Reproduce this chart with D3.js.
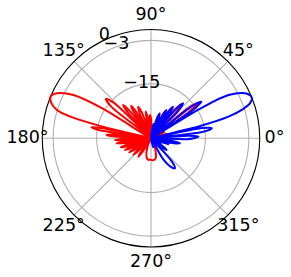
<!DOCTYPE html>
<html>
<head>
<meta charset="utf-8">
<script src="https://cdn.jsdelivr.net/npm/d3@7"></script>
<style>
  html, body { margin: 0; padding: 0; background: #fff; }
  svg { display: block; }
  text { font-family: "DejaVu Sans", sans-serif; fill: #000; }
</style>
</head>
<body>
<svg id="chart" width="291" height="277"></svg>
<script>
// ---- data (angles in degrees, values in dB) ----
const angleTicks = [0, 45, 90, 135, 180, 225, 270, 315];
const radialTicks = [-15, -3, 0];
const radialLabels = ["\u221215", "\u22123", "0"];
const rMin = -30, rMax = 0;

const redTheta = [5, 10, 15, 20, 25, 29,
  33, 35, 37, 39, 41.5, 46, 48.5, 50.5, 52.5, 54.5, 56, 57.8, 59.5, 61, 62.6, 64.2, 66.5,
  69.5, 71.8, 74, 77, 81, 85,
  89.5, 92.5, 95, 97, 99, 101, 103, 106, 109.5, 112, 114.5, 117, 119.5, 121.5, 123.5, 126,
  128, 130, 132, 134, 136.3, 138.8, 141.5, 146.5,
  148.5, 150.9, 154.5, 157.5, 160.5, 163.3, 165, 166.3, 167.3,
  168.5, 169.5, 171, 172.5, 174.3, 175.8, 177.3, 179, 181.3, 182.8, 184.3, 185.6,
  187, 188.4, 190, 192, 194.5, 196.5, 198.5, 200.5, 202.5, 204.3, 206, 208.5,
  211, 213, 215, 218, 221, 223.4, 225.5, 229, 233, 235.5, 238, 242,
  246, 252, 258, 263, 268, 273, 278, 283, 289, 295, 300,
  315, 325, 340, 350];
const redDb = [-26, -30, -25.5, -30, -26, -30,
  -30, -17, -13.8, -16.5, -30, -20, -17.5, -20, -30, -22, -20, -22, -30, -23.5, -21.6, -23.5, -30,
  -25, -23.2, -25, -30, -26.5, -30,
  -25, -23.6, -25, -30, -24.5, -22.5, -24.5, -30, -22.5, -20.6, -22.5, -30, -21.5, -19.5, -21.5, -30,
  -20.5, -18, -20.5, -30, -16, -13.5, -16, -30,
  -14, -5.5, -1.2, 0, -0.8, -2.9, -7, -15, -30,
  -16, -13.3, -15.5, -30, -20, -17.7, -20, -30, -22, -20, -22, -30,
  -22.5, -20.4, -22.5, -30, -23, -21.3, -23, -30, -24, -22.1, -24, -30,
  -25, -22.8, -25, -30, -25.5, -23.3, -25.5, -30, -26, -23.8, -26, -30,
  -28, -26, -24.4, -24, -24.1, -23.9, -24, -24.3, -26, -28, -30,
  -27.5, -30, -27.5, -30];

const blueTheta = [0, 1.9, 3.8, 5.5, 7.2, 9.3, 11.3, 13,
  14, 15.5, 17.5, 19.5, 22, 25.5, 29.1, 31, 32.5,
  34, 36, 38, 40.5, 45, 47.5, 49.5, 51.5, 53.3, 55, 56.8, 58.5,
  60, 61.6, 63.2, 65.5, 68.5, 70.8, 73, 76, 80, 84,
  284, 292, 300, 304.5, 308.6, 312, 315, 319.5, 323.2, 327, 330,
  334, 337, 341, 344, 347.5, 350.1, 352.5, 355.5, 358.5];
const blueDb = [-18.2, -16.9, -19.5, -30, -15.5, -13, -15.5, -30,
  -16, -8, -3.5, -1, 0, -1.2, -5.5, -14, -30,
  -16, -12.8, -15.5, -30, -19.5, -16.9, -19.5, -30, -21.5, -19.4, -21.5, -30,
  -23, -21.1, -23, -30, -24.5, -22.7, -24.5, -30, -26, -30,
  -27.5, -30, -23.5, -20.5, -19.4, -21.5, -30, -26, -24.6, -26.5, -30,
  -27, -30, -25, -30, -23.5, -21.9, -24, -30, -20];

// ---- layout ----
const cx = 151, cy = 138.25, R = 108.75;
const svg = d3.select("#chart");
const g = svg.append("g").attr("transform", `translate(${cx},${cy})`);

const r = d3.scaleLinear().domain([rMin, rMax]).range([0, R]).clamp(true);
const toRad = d => d * Math.PI / 180;
const d3Angle = deg => Math.PI / 2 - toRad(deg);

g.selectAll("circle.grid").data(radialTicks.filter(v => v < rMax)).enter()
  .append("circle").attr("r", d => r(d))
  .attr("fill", "none").attr("stroke", "#b0b0b0").attr("stroke-width", 1.1);

g.selectAll("line.grid").data(angleTicks).enter().append("line")
  .attr("x1", 0).attr("y1", 0)
  .attr("x2", d => R * Math.cos(toRad(d)))
  .attr("y2", d => -R * Math.sin(toRad(d)))
  .attr("stroke", "#b0b0b0").attr("stroke-width", 1.1);

g.append("circle").attr("r", R).attr("fill", "none")
  .attr("stroke", "#000").attr("stroke-width", 1.1);

const line = d3.lineRadial()
  .angle(d => d3Angle(d[0]))
  .radius(d => r(d[1]))
  .curve(d3.curveCatmullRomClosed.alpha(0.5));

const redPts = redTheta.map((t, i) => [t, redDb[i]]);
const bluePts = blueTheta.map((t, i) => [t, blueDb[i]]);

g.append("path").attr("d", line(redPts)).attr("fill", "none")
  .attr("stroke", "#ff0000").attr("stroke-width", 2).attr("stroke-linejoin", "round");
g.append("path").attr("d", line(bluePts)).attr("fill", "none")
  .attr("stroke", "#0000ff").attr("stroke-width", 2).attr("stroke-linejoin", "round");

const fs = 17.5;
g.selectAll("text.theta").data(angleTicks).enter().append("text")
  .attr("x", d => 123.5 * Math.cos(toRad(d)))
  .attr("y", d => -123.5 * Math.sin(toRad(d)) + 0.364 * fs - 1.2)
  .attr("text-anchor", "middle")
  .style("font-size", fs + "px")
  .text(d => d + "\u00b0");

const la = toRad(117);
g.selectAll("text.rlab").data(radialTicks).enter().append("text")
  .attr("x", d => r(d) * Math.cos(la) - 3)
  .attr("y", d => -r(d) * Math.sin(la) - 1.7)
  .attr("text-anchor", "start")
  .style("font-size", fs + "px")
  .text((d, i) => radialLabels[i]);
</script>
</body>
</html>
